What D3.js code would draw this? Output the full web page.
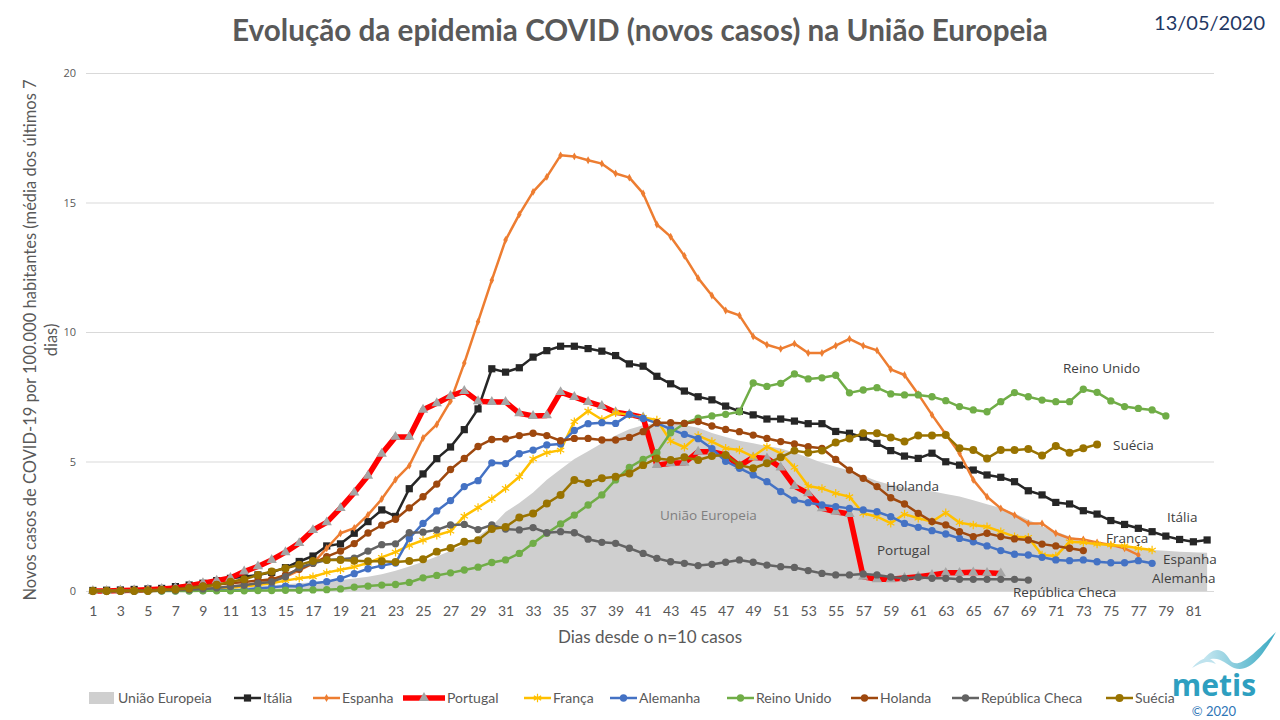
<!DOCTYPE html>
<html><head><meta charset="utf-8">
<script src="https://cdn.jsdelivr.net/npm/d3@7"></script>
<style>body{margin:0;background:#fff;} svg{display:block;}</style>
</head><body>
<svg id="c" width="1280" height="720"></svg>
<script>
// ---------------- DATA ----------------
const days = d3.range(1, 83);
const xTickLabels = d3.range(1, 83, 2);
const yTickValues = [0, 5, 10, 15, 20];

const uniaoEuropeia = [0,0,0.01,0.02,0.03,0.04,0.05,0.07,0.09,0.11,0.13,0.16,0.19,0.22,0.26,0.3,0.34,0.38,0.42,0.48,
  0.55,0.65,0.78,0.95,1.13,1.33,1.55,1.8,2.1,2.5,3.05,3.4,3.8,4.3,4.7,5.1,5.4,5.7,6.0,6.25,
  6.4,6.5,6.5,6.4,6.3,6.1,5.95,5.8,5.7,5.6,5.5,5.35,5.15,4.95,4.8,4.65,4.45,4.25,4.1,4.0,
  3.9,3.85,3.75,3.65,3.5,3.35,3.2,3.0,2.75,2.5,2.3,2.1,1.97,1.85,1.75,1.68,1.62,1.58,1.55,1.52,1.5,1.48];
const italia = [0.02,0.03,0.04,0.06,0.08,0.1,0.17,0.23,0.3,0.4,0.49,0.55,0.62,0.72,0.9,1.14,1.35,1.74,1.82,2.23,
  2.68,3.13,2.88,3.95,4.52,5.11,5.56,6.23,7.03,8.58,8.45,8.62,9.03,9.28,9.45,9.45,9.36,9.26,9.09,8.77,
  8.68,8.29,8.0,7.72,7.5,7.38,7.14,6.94,6.8,6.64,6.64,6.56,6.46,6.46,6.16,6.09,5.94,5.7,5.42,5.21,
  5.12,5.32,4.99,4.86,4.67,4.48,4.39,4.22,3.87,3.71,3.42,3.36,3.1,2.97,2.72,2.57,2.42,2.29,2.12,1.99,1.9,1.97];
const espanha = [0,0.01,0.01,0.02,0.03,0.04,0.05,0.07,0.1,0.13,0.17,0.22,0.3,0.4,0.55,0.8,1.07,1.65,2.23,2.43,
  2.94,3.55,4.3,4.84,5.91,6.43,7.33,8.8,10.4,12.0,13.55,14.54,15.41,15.99,16.82,16.78,16.63,16.5,16.12,15.96,
  15.35,14.15,13.68,12.94,12.08,11.41,10.83,10.64,9.83,9.51,9.35,9.55,9.19,9.19,9.47,9.73,9.47,9.29,8.56,8.34,
  7.6,6.8,6.05,5.32,4.29,3.64,3.19,2.93,2.61,2.61,2.23,2.03,1.99,1.87,1.78,1.65,1.39];
const portugal = [0,0,0.02,0.03,0.05,0.08,0.12,0.2,0.3,0.4,0.5,0.75,0.95,1.2,1.5,1.85,2.35,2.65,3.2,3.8,
  4.45,5.3,5.95,5.95,7.0,7.25,7.53,7.72,7.33,7.3,7.3,6.86,6.76,6.78,7.68,7.49,7.3,7.14,6.9,6.82,
  6.7,4.86,4.93,4.95,5.38,5.38,5.25,4.83,5.16,5.12,4.77,4.05,3.77,3.19,3.06,2.97,0.55,0.45,0.45,0.5,
  0.55,0.62,0.7,0.7,0.72,0.7,0.68];
const franca = [0,0,0.01,0.02,0.03,0.04,0.05,0.06,0.08,0.1,0.13,0.17,0.23,0.3,0.4,0.49,0.55,0.71,0.82,0.93,
  1.08,1.3,1.5,1.76,1.96,2.15,2.31,2.89,3.22,3.56,3.96,4.41,5.1,5.34,5.44,6.54,6.95,6.62,6.88,6.8,
  6.7,6.6,5.79,5.55,6.0,5.77,5.51,5.44,5.19,5.57,5.31,4.77,4.05,3.96,3.77,3.64,3.0,2.87,2.62,2.97,
  2.81,2.68,3.02,2.64,2.55,2.48,2.29,2.1,2.07,1.39,1.35,1.9,1.87,1.81,1.78,1.74,1.65,1.58];
const alemanha = [0,0,0,0,0.01,0.01,0.01,0.02,0.02,0.03,0.03,0.04,0.1,0.14,0.19,0.17,0.3,0.36,0.48,0.67,
  0.86,0.98,1.08,2.03,2.61,3.09,3.49,4.03,4.26,4.95,4.92,5.3,5.44,5.64,5.68,6.2,6.46,6.5,6.47,6.82,
  6.66,6.48,6.25,6.05,5.88,5.5,5.01,4.74,4.48,4.22,3.84,3.51,3.41,3.32,3.26,3.19,3.13,3.06,2.87,2.61,
  2.46,2.33,2.2,2.03,1.9,1.74,1.56,1.42,1.39,1.3,1.2,1.17,1.2,1.13,1.09,1.09,1.17,1.07];
const reinoUnido = [0,0,0,0,0,0,0,0,0.01,0.01,0.01,0.01,0.02,0.02,0.03,0.03,0.04,0.05,0.08,0.15,
  0.19,0.23,0.25,0.33,0.51,0.6,0.7,0.81,0.92,1.1,1.2,1.45,1.84,2.23,2.59,2.93,3.32,3.71,4.29,4.77,
  5.08,5.34,6.11,6.47,6.67,6.76,6.82,6.92,8.03,7.9,8.02,8.38,8.19,8.23,8.33,7.65,7.76,7.85,7.61,7.57,
  7.57,7.5,7.35,7.12,6.99,6.92,7.31,7.66,7.5,7.37,7.31,7.31,7.79,7.67,7.34,7.12,7.05,6.99,6.76];
const holanda = [0,0,0.01,0.02,0.03,0.05,0.08,0.14,0.2,0.25,0.3,0.35,0.4,0.45,0.62,0.84,1.07,1.33,1.54,1.83,
  2.24,2.54,2.77,3.21,3.64,4.13,4.69,5.12,5.58,5.85,5.87,6.0,6.09,6.0,5.8,5.89,5.89,5.83,5.83,5.93,
  6.15,6.5,6.5,6.47,6.54,6.37,6.24,6.15,6.02,5.89,5.77,5.68,5.57,5.51,5.08,4.67,4.35,4.03,3.6,3.36,
  3.0,2.68,2.55,2.29,2.1,2.23,2.1,2.01,1.97,1.81,1.74,1.65,1.56];
const republicaCheca = [0,0,0,0,0.01,0.02,0.03,0.05,0.08,0.12,0.17,0.22,0.3,0.35,0.55,0.9,1.07,1.2,1.23,1.27,
  1.54,1.79,1.82,2.25,2.27,2.36,2.55,2.57,2.37,2.55,2.39,2.36,2.45,2.25,2.29,2.25,2.0,1.88,1.84,1.65,
  1.45,1.26,1.13,1.07,0.98,1.03,1.11,1.2,1.11,1.0,0.94,0.91,0.79,0.68,0.62,0.62,0.66,0.62,0.54,0.49,
  0.53,0.49,0.49,0.45,0.45,0.45,0.45,0.45,0.42];
const suecia = [0,0,0,0,0,0.04,0.06,0.1,0.17,0.23,0.36,0.45,0.62,0.75,0.88,1.01,1.16,1.2,1.2,1.17,
  1.15,1.15,1.12,1.16,1.23,1.52,1.66,1.9,1.96,2.39,2.47,2.84,2.99,3.38,3.71,4.29,4.17,4.35,4.41,4.54,
  4.86,5.12,5.06,5.16,5.06,5.21,5.25,4.86,4.74,4.93,5.16,5.42,5.34,5.42,5.73,5.89,6.09,6.09,5.93,5.77,
  6.0,6.0,6.02,5.51,5.44,5.12,5.44,5.44,5.48,5.23,5.6,5.34,5.51,5.66];

const seriesNames = ["Itália","Espanha","Portugal","França","Alemanha","Reino Unido","Holanda","República Checa","Suécia"];
const seriesValues = [italia, espanha, portugal, franca, alemanha, reinoUnido, holanda, republicaCheca, suecia];
const areaName = "União Europeia";

// ---------------- STYLE ----------------
const styles = {
  "Itália":          {color:"#262626", width:2.5, sym:"square",  size:52, fill:"#262626"},
  "Espanha":         {color:"#ED7D31", width:2.5, sym:"diamond", size:18, fill:"#ED7D31"},
  "Portugal":        {color:"#FF0000", width:5.5, sym:"triangle",size:46, fill:"#A5A5A5"},
  "França":          {color:"#FFC000", width:2.5, sym:"asterisk",size:50, fill:"#FFC000"},
  "Alemanha":        {color:"#4472C4", width:2.5, sym:"circle",  size:42, fill:"#4472C4"},
  "Reino Unido":     {color:"#70AD47", width:2.5, sym:"circle",  size:42, fill:"#70AD47"},
  "Holanda":         {color:"#9E480E", width:2.5, sym:"circle",  size:42, fill:"#9E480E"},
  "República Checa": {color:"#636363", width:2.5, sym:"circle",  size:42, fill:"#636363"},
  "Suécia":          {color:"#997300", width:2.5, sym:"circle",  size:50, fill:"#997300"}
};
const symTypes = {
  square: d3.symbolSquare, diamond: d3.symbolDiamond, triangle: d3.symbolTriangle,
  circle: d3.symbolCircle, asterisk: d3.symbolAsterisk || d3.symbolCross
};
const FONT = "Lato, 'Open Sans', sans-serif";
const LFONT = "'Open Sans', Lato, sans-serif";
const txtColor = "#595959";

const svg = d3.select("#c");
const plotL = 86, plotR = 1214, plotT = 73, plotB = 591;

const x = d3.scalePoint().domain(days).range([plotL, plotR]).padding(0.5);
const y = d3.scaleLinear().domain([0, 20]).range([plotB, plotT]);

// gridlines + y ticks
const yAxis = svg.append("g").attr("transform", `translate(${plotL},0)`)
  .call(d3.axisLeft(y).tickValues(yTickValues).tickSize(-(plotR-plotL)).tickPadding(10));
yAxis.select(".domain").remove();
yAxis.selectAll(".tick line").attr("stroke", "#D9D9D9").attr("stroke-width", 1);
yAxis.selectAll(".tick text").attr("fill", txtColor).style("font-family", LFONT).style("font-size", "11px");

// x ticks
const xAxis = svg.append("g").attr("transform", `translate(0,${plotB})`)
  .call(d3.axisBottom(x).tickValues(xTickLabels).tickSize(0).tickPadding(15));
xAxis.select(".domain").remove();
xAxis.selectAll(".tick text").attr("fill", txtColor).style("font-family", FONT).style("font-size", "14px");

// EU area
const euData = days.map((d,i) => ({d, v: uniaoEuropeia[i]}));
svg.append("path").datum(euData)
  .attr("fill", "#CFCFCF")
  .attr("d", d3.area().x(p => x(p.d)).y0(y(0)).y1(p => y(p.v)));

// lines
seriesNames.forEach((name, si) => {
  const st = styles[name];
  const data = seriesValues[si].map((v,i) => ({d: days[i], v}));
  const g = svg.append("g");
  g.append("path").datum(data)
    .attr("fill", "none").attr("stroke", st.color).attr("stroke-width", st.width)
    .attr("stroke-linejoin", "round")
    .attr("d", d3.line().defined(p => p.v != null).x(p => x(p.d)).y(p => y(p.v)));
  const sym = d3.symbol().type(symTypes[st.sym]).size(st.size);
  g.selectAll("path.m").data(data.filter(p => p.v != null)).join("path")
    .attr("class", "m")
    .attr("transform", p => `translate(${x(p.d)},${y(p.v)})`)
    .attr("d", sym)
    .attr("fill", st.sym === "asterisk" ? "none" : st.fill)
    .attr("stroke", st.sym === "asterisk" ? st.fill : "none")
    .attr("stroke-width", st.sym === "asterisk" ? 1.2 : 0);
});

// in-chart labels
const labels = [
  {t:"União Europeia", x:660, y:520, c:"#7F7F7F"},
  {t:"Holanda", x:886, y:491, c:"#404040"},
  {t:"Portugal", x:877, y:555, c:"#404040"},
  {t:"República Checa", x:1013, y:597, c:"#404040"},
  {t:"Reino Unido", x:1063, y:373, c:"#404040"},
  {t:"Suécia", x:1113, y:450, c:"#404040"},
  {t:"Itália", x:1167, y:522, c:"#404040"},
  {t:"França", x:1106, y:543, c:"#404040"},
  {t:"Espanha", x:1163, y:564, c:"#404040"},
  {t:"Alemanha", x:1152, y:583, c:"#404040"}
];
svg.append("g").selectAll("text").data(labels).join("text")
  .attr("x", d => d.x).attr("y", d => d.y).text(d => d.t)
  .attr("fill", d => d.c).style("font-family", LFONT).style("font-size", "13.5px");

// title
const title = svg.append("text").attr("x", 640).attr("y", 41).attr("text-anchor", "middle")
  .text("Evolução da epidemia COVID (novos casos) na União Europeia")
  .attr("fill", txtColor).style("font-family", FONT).style("font-weight", "bold").style("font-size", "28px");
const tw = title.node().getComputedTextLength();
title.style("font-size", (28 * 816 / tw) + "px");

svg.append("text").attr("x", 1265).attr("y", 30).attr("text-anchor", "end")
  .text("13/05/2020").attr("fill", "#1F3864").style("font-family", FONT).style("font-size", "20px");

// axis titles
const yt = svg.append("text").attr("transform", "translate(36,340) rotate(-90)")
  .attr("text-anchor", "middle").attr("fill", txtColor).style("font-family", FONT).style("font-size", "16.5px");
yt.append("tspan").attr("x", 0).attr("y", 0).text("Novos casos de COVID-19 por 100.000 habitantes (média dos últimos 7");
yt.append("tspan").attr("x", 0).attr("y", 21).text("dias)");

svg.append("text").attr("x", 650).attr("y", 643).attr("text-anchor", "middle")
  .text("Dias desde o n=10 casos").attr("fill", txtColor).style("font-family", FONT).style("font-size", "17px");

// legend
const legendX = [234, 313, 403, 524, 610, 727, 851, 952, 1106];
const ly = 698;
const lg = svg.append("g");
lg.append("rect").attr("x", 89).attr("y", ly-6).attr("width", 25).attr("height", 12).attr("fill", "#CFCFCF");
lg.append("text").attr("x", 118).attr("y", ly+5).text(areaName)
  .attr("fill", txtColor).style("font-family", FONT).style("font-size", "14px");
seriesNames.forEach((name, i) => {
  const st = styles[name];
  const x0 = legendX[i], w = name === "Portugal" ? 42 : 27;
  lg.append("line").attr("x1", x0).attr("x2", x0 + w).attr("y1", ly).attr("y2", ly)
    .attr("stroke", st.color).attr("stroke-width", st.width);
  lg.append("path").attr("transform", `translate(${x0 + w/2},${ly})`)
    .attr("d", d3.symbol().type(symTypes[st.sym]).size(st.size))
    .attr("fill", st.sym === "asterisk" ? "none" : st.fill)
    .attr("stroke", st.sym === "asterisk" ? st.fill : "none").attr("stroke-width", 1.2);
  lg.append("text").attr("x", x0 + w + 2).attr("y", ly + 5).text(name)
    .attr("fill", txtColor).style("font-family", FONT).style("font-size", "14px");
});

// logo
const logo = svg.append("g");
const defs = svg.append("defs");
const grad = defs.append("linearGradient").attr("id", "wg").attr("x1", "0").attr("x2", "1");
grad.append("stop").attr("offset", "0").attr("stop-color", "#CDEAF3");
grad.append("stop").attr("offset", "1").attr("stop-color", "#38A9C2");
logo.append("path").attr("d", "M1200,664 C1212,646 1222,646 1230,660 C1238,670 1252,656 1276,632 C1264,654 1250,674 1234,668 C1224,664 1218,652 1200,664 Z")
  .attr("fill", "url(#wg)");
logo.append("path").attr("d", "M1192,668 C1202,656 1210,656 1216,664 C1208,660 1202,662 1192,668 Z")
  .attr("fill", "#BFE3EE");
logo.append("text").attr("x", 1214).attr("y", 696).attr("text-anchor", "middle").text("metis")
  .attr("fill", "#2E9FC0").style("font-family", "'Open Sans', sans-serif").style("font-weight", "bold").style("font-size", "30px");
logo.append("text").attr("x", 1214).attr("y", 716).attr("text-anchor", "middle").text("© 2020")
  .attr("fill", "#2E75B6").style("font-family", FONT).style("font-size", "13px");
</script>
</body></html>
